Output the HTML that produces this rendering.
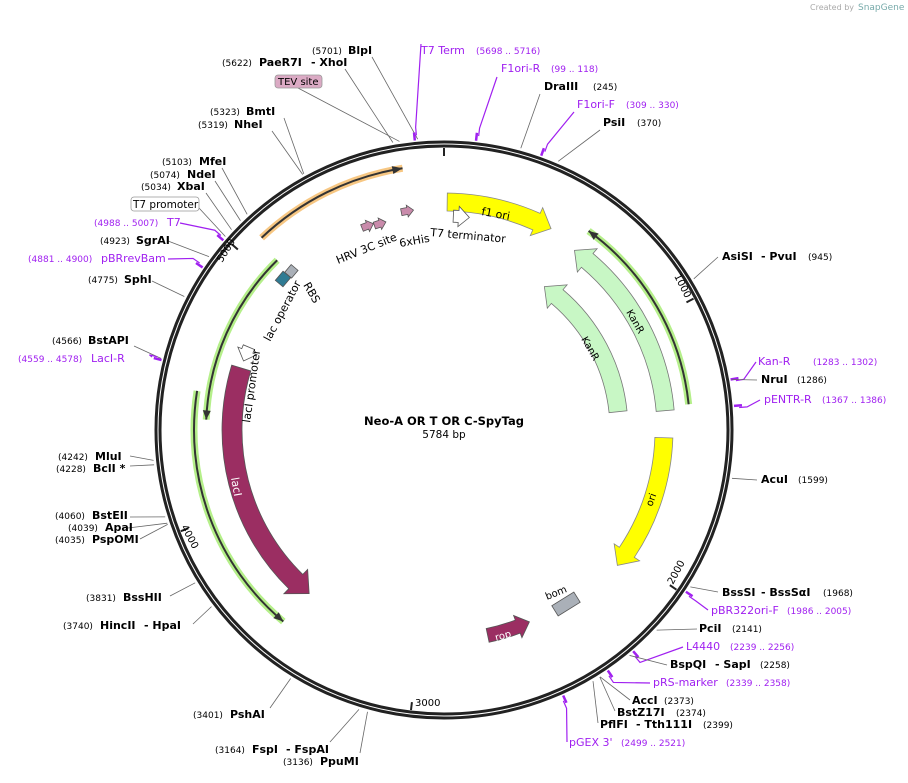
<!DOCTYPE html><html><head><meta charset="utf-8"><style>
body{margin:0;background:#fff;width:908px;height:778px;overflow:hidden}
svg text{font-family:"DejaVu Sans","Liberation Sans",sans-serif}
.n{font-size:9px;fill:#000}.b{font-size:11px;font-weight:bold;fill:#000}.p{font-size:11px;fill:#a020f0}.pn{font-size:9px;fill:#a020f0}
</style></head><body>
<svg id="s" width="908" height="778" xmlns="http://www.w3.org/2000/svg">
<text x="810" y="10" font-size="8" fill="#aaa">Created by</text><text x="858" y="10" font-size="9" fill="#7aa">SnapGene</text>
<g id="lines" stroke="#666" stroke-width="0.8" fill="none"></g>
<circle cx="444" cy="430" r="288" fill="none" stroke="#222" stroke-width="3"/>
<circle cx="444" cy="430" r="284" fill="none" stroke="#222" stroke-width="3"/>
<g id="feat"></g>
<text x="312" y="54" class="n">(5701)</text><text x="348" y="54" class="b">BlpI</text>
<text x="222" y="66" class="n">(5622)</text><text x="259" y="66" class="b">PaeR7I</text><text x="311" y="66" class="b">- XhoI</text>
<rect x="275" y="75" width="47" height="13" rx="3" fill="#dbaac4" stroke="#999" stroke-width=".8"/><text x="278" y="85" font-size="10">TEV site</text>
<text x="421" y="54" class="p">T7 Term</text><text x="476" y="54" class="pn">(5698 .. 5716)</text>
<text x="501" y="72" class="p">F1ori-R</text><text x="551" y="72" class="pn">(99 .. 118)</text>
<text x="544" y="90" class="b">DraIII</text><text x="593" y="90" class="n">(245)</text>
<text x="577" y="108" class="p">F1ori-F</text><text x="626" y="108" class="pn">(309 .. 330)</text>
<text x="603" y="126" class="b">PsiI</text><text x="637" y="126" class="n">(370)</text>
<text x="210" y="115" class="n">(5323)</text><text x="246" y="115" class="b">BmtI</text>
<text x="198" y="128" class="n">(5319)</text><text x="234" y="128" class="b">NheI</text>
<text x="162" y="165" class="n">(5103)</text><text x="199" y="165" class="b">MfeI</text>
<text x="150" y="178" class="n">(5074)</text><text x="187" y="178" class="b">NdeI</text>
<text x="141" y="190" class="n">(5034)</text><text x="177" y="190" class="b">XbaI</text>
<rect x="131" y="197" width="68" height="14" rx="3" fill="#fff" stroke="#999" stroke-width=".8"/><text x="133" y="208" font-size="10.5">T7 promoter</text>
<text x="94" y="226" class="pn">(4988 .. 5007)</text><text x="167" y="226" class="p">T7</text>
<text x="100" y="244" class="n">(4923)</text><text x="136" y="244" class="b">SgrAI</text>
<text x="28" y="262" class="pn">(4881 .. 4900)</text><text x="101" y="262" class="p">pBRrevBam</text>
<text x="88" y="283" class="n">(4775)</text><text x="124" y="283" class="b">SphI</text>
<text x="52" y="344" class="n">(4566)</text><text x="88" y="344" class="b">BstAPI</text>
<text x="18" y="362" class="pn">(4559 .. 4578)</text><text x="91" y="362" class="p">LacI-R</text>
<text x="58" y="460" class="n">(4242)</text><text x="95" y="460" class="b">MluI</text>
<text x="56" y="472" class="n">(4228)</text><text x="93" y="472" class="b">BclI *</text>
<text x="55" y="519" class="n">(4060)</text><text x="92" y="519" class="b">BstEII</text>
<text x="68" y="531" class="n">(4039)</text><text x="105" y="531" class="b">ApaI</text>
<text x="55" y="543" class="n">(4035)</text><text x="92" y="543" class="b">PspOMI</text>
<text x="86" y="601" class="n">(3831)</text><text x="123" y="601" class="b">BssHII</text>
<text x="63" y="629" class="n">(3740)</text><text x="100" y="629" class="b">HincII</text><text x="144" y="629" class="b">- HpaI</text>
<text x="193" y="718" class="n">(3401)</text><text x="230" y="718" class="b">PshAI</text>
<text x="215" y="753" class="n">(3164)</text><text x="252" y="753" class="b">FspI</text><text x="286" y="753" class="b">- FspAI</text>
<text x="283" y="765" class="n">(3136)</text><text x="320" y="765" class="b">PpuMI</text>
<text x="722" y="260" class="b">AsiSI</text><text x="761" y="260" class="b">- PvuI</text><text x="808" y="260" class="n">(945)</text>
<text x="758" y="365" class="p">Kan-R</text><text x="813" y="365" class="pn">(1283 .. 1302)</text>
<text x="761" y="383" class="b">NruI</text><text x="797" y="383" class="n">(1286)</text>
<text x="764" y="403" class="p">pENTR-R</text><text x="822" y="403" class="pn">(1367 .. 1386)</text>
<text x="761" y="483" class="b">AcuI</text><text x="798" y="483" class="n">(1599)</text>
<text x="722" y="596" class="b">BssSI</text><text x="761" y="596" class="b">- BssSαI</text><text x="823" y="596" class="n">(1968)</text>
<text x="711" y="614" class="p">pBR322ori-F</text><text x="787" y="614" class="pn">(1986 .. 2005)</text>
<text x="699" y="632" class="b">PciI</text><text x="732" y="632" class="n">(2141)</text>
<text x="686" y="650" class="p">L4440</text><text x="730" y="650" class="pn">(2239 .. 2256)</text>
<text x="670" y="668" class="b">BspQI</text><text x="715" y="668" class="b">- SapI</text><text x="760" y="668" class="n">(2258)</text>
<text x="653" y="686" class="p">pRS-marker</text><text x="726" y="686" class="pn">(2339 .. 2358)</text>
<text x="632" y="704" class="b">AccI</text><text x="664" y="704" class="n">(2373)</text>
<text x="617" y="716" class="b">BstZ17I</text><text x="676" y="716" class="n">(2374)</text>
<text x="600" y="728" class="b">PflFI</text><text x="636" y="728" class="b">- Tth111I</text><text x="703" y="728" class="n">(2399)</text>
<text x="569" y="746" class="p">pGEX 3'</text><text x="621" y="746" class="pn">(2499 .. 2521)</text>
<text x="444" y="425" text-anchor="middle" font-size="11.5" font-weight="bold">Neo-A OR T OR C-SpyTag</text>
<text x="444" y="438" text-anchor="middle" font-size="10.5">5784 bp</text>
<g font-size="10">
<text transform="translate(674,276) rotate(63)">1000</text>
<text transform="translate(673,585) rotate(-62)">2000</text>
<text x="415" y="706">3000</text>
<text transform="translate(181,527) rotate(62)">4000</text>
<text transform="translate(222,263) rotate(-58)">5000</text>
<text transform="translate(338,264) rotate(-22)" font-size="11">HRV 3C site</text>
<text transform="translate(400,247) rotate(-10)" font-size="11">6xHis</text>
<text transform="translate(430,236) rotate(5)" font-size="11">T7 terminator</text>
<text transform="translate(481,215) rotate(10)" font-size="11">f1 ori</text>
<text transform="translate(626,312) rotate(60)" font-size="10">KanR</text>
<text transform="translate(581,339) rotate(60)" font-size="10">KanR</text>
<text transform="translate(270,342) rotate(-62)" font-size="11">lac operator</text>
<text transform="translate(303,285) rotate(60)" font-size="11">RBS</text>
<text transform="translate(250,423) rotate(-82)" font-size="11">lacI promoter</text>
<text transform="translate(231,478) rotate(80)" font-size="11" fill="#fff">lacI</text>
<text transform="translate(652,507) rotate(-70)" font-size="10">ori</text>
<text transform="translate(547,600) rotate(-22)" font-size="10">bom</text>
<text transform="translate(496,641) rotate(-15)" font-size="10" fill="#fff">rop</text>
</g>
</svg>
<script>
var cx=444,cy=430,NS="http://www.w3.org/2000/svg";
function P(r,a){a=a*Math.PI/180;return [cx+r*Math.sin(a),cy-r*Math.cos(a)];}
function el(t,at,par){var e=document.createElementNS(NS,t);for(var k in at)e.setAttribute(k,at[k]);document.getElementById(par).appendChild(e);return e;}
function arrow(r,a1,a2,w,fill,stroke){
 var dir=a2>a1?1:-1, hl=(w*0.9)/r*180/Math.PI, ab=a2-dir*hl;
 var o=P(r+w/2,a1),o2=P(r+w/2,ab),h1=P(r+w/2+w*0.35,ab),t=P(r,a2),h2=P(r-w/2-w*0.35,ab),i2=P(r-w/2,ab),i1=P(r-w/2,a1);
 var large=Math.abs(ab-a1)>180?1:0,sw=dir>0?1:0;
 var d="M"+o+" A"+(r+w/2)+","+(r+w/2)+" 0 "+large+" "+sw+" "+o2+" L"+h1+" L"+t+" L"+h2+" L"+i2+" A"+(r-w/2)+","+(r-w/2)+" 0 "+large+" "+(1-sw)+" "+i1+" Z";
 el("path",{d:d,fill:fill,stroke:stroke,"stroke-width":0.8},"feat");}
function line(r,a1,a2,col,halo){
 var dir=a2>a1?1:-1,p1=P(r,a1),p2=P(r,a2),large=Math.abs(a2-a1)>180?1:0;
 var d="M"+p1+" A"+r+","+r+" 0 "+large+" "+(dir>0?1:0)+" "+p2;
 el("path",{d:d,fill:"none",stroke:halo,"stroke-width":7},"feat");
 el("path",{d:d,fill:"none",stroke:"#333","stroke-width":2},"feat");
 var l=P(r+4,a2-dir*2.2),rr=P(r-4,a2-dir*2.2);
 el("path",{d:"M"+l+" L"+p2+" L"+rr+" Z",fill:"#333"},"feat");}
line(265,-43.5,-9,"#333","#f7c783");
line(246,84,36,"#333","#b5ef8a");
line(250,279,220,"#333","#b5ef8a");
line(238,315.5,272.5,"#333","#b5ef8a");
arrow(228,0.8,28,18,"#ffff00","#888");
arrow(222,85,36,18,"#c8f7c5","#777");
arrow(175,84,35,18,"#c8f7c5","#777");
arrow(220,92,128,18,"#ffff00","#888");
arrow(212,287,219.5,20,"#9b2e62","#555");
arrow(210,168,156,14,"#9b2e62","#555");
arrow(212,293,289,12,"#fff","#555");
arrow(214,2.5,6.8,12,"#fff","#555");
[[-20.5,218],[-17.2,216],[-9.5,222]].forEach(function(a){arrow(a[1],a[0]-1.6,a[0]+1.6,7,"#c98bab","#555");});
el("rect",{x:-13,y:-6,width:26,height:12,fill:"#aab0b8",stroke:"#555","stroke-width":.8,transform:"translate(566,604) rotate(-32)"},"feat");
el("rect",{x:-6,y:-5,width:12,height:10,fill:"#2f7b93",stroke:"#555","stroke-width":.8,transform:"translate(283,279) rotate(-50)"},"feat");
el("rect",{x:-5,y:-4,width:10,height:9,fill:"#aab0b8",stroke:"#555","stroke-width":.8,transform:"translate(291,271) rotate(-50)"},"feat");
[0,1000,2000,3000,4000,5000].forEach(function(b){var a=b/5784*360,p=P(282,a),q=P(274,a);el("line",{x1:p[0],y1:p[1],x2:q[0],y2:q[1],stroke:"#222","stroke-width":2},"feat");});
var L=[[5701,372,57],[5622,345,69],[5698,421,44,1],[5643,298,88],[108,497,77,1],[245,540,94],[320,574,112,1],[370,600,130],
[5323,284,118],[5319,272,131],[5103,222,168],[5074,215,181],[5034,206,193],[5005,199,208],[4998,180,223,1],[4923,168,241],[4890,168,259,1],[4775,152,281],
[4566,134,346],[4568,152,357,1],[4242,130,456],[4228,130,466],[4060,130,517],[4039,128,528],[4035,140,539],[3831,170,596],[3740,193,624],
[3401,270,708],[3164,330,742],[3136,360,753],[945,718,257],[1292,756,362,1],[1286,757,380],[1376,760,400,1],[1599,757,480],
[1968,718,592],[1995,708,610,1],[2141,697,629],[2247,683,647,1],[2258,667,665],[2348,650,683,1],[2373,630,700],[2374,615,711],[2399,598,723],[2510,567,742,1]];
L.forEach(function(c){var a=c[0]/5784*360,p=P(292,a);
 if(c[3]){var q=P(296,a),k=P(304,a);el("polyline",{points:c[1]+","+c[2]+" "+k+" "+q,fill:"none",stroke:"#a020f0","stroke-width":1.2},"lines");
  var t1=P(291,a-0.4),t2=P(299,a-0.4);el("line",{x1:t1[0],y1:t1[1],x2:t2[0],y2:t2[1],stroke:"#a020f0","stroke-width":2.5},"lines");}
 else el("line",{x1:p[0],y1:p[1],x2:c[1],y2:c[2]},"lines");});
</script>
</body></html>
